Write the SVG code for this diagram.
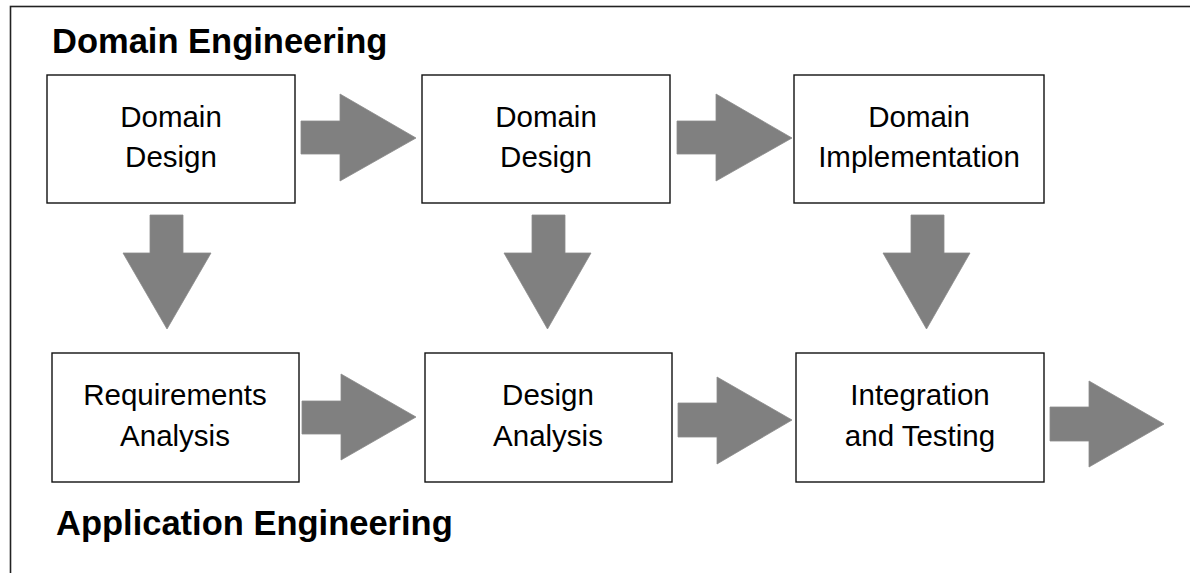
<svg xmlns="http://www.w3.org/2000/svg" width="1190" height="573" viewBox="0 0 1190 573">
<style>
.frame{fill:none;stroke:#222;stroke-width:1.6}
.box{fill:#fff;stroke:#111;stroke-width:1.4}
.lbl{font-family:"Liberation Sans",Arial,sans-serif;font-size:29.5px;fill:#000;text-anchor:middle}
.ttl{font-family:"Liberation Sans",Arial,sans-serif;font-size:34.5px;font-weight:bold;fill:#000}
.arr{fill:#808080;stroke:#8a8a8a;stroke-width:0.8}
</style>
<rect class="frame" x="10.5" y="6.5" width="1200" height="600"/>
<text class="ttl" x="52" y="53">Domain Engineering</text>
<text class="ttl" x="56" y="535">Application Engineering</text>
<g id="node-domain-design-1">
<rect class="box" x="47" y="75" width="248" height="128"/>
<text class="lbl" x="171" y="127">Domain</text>
<text class="lbl" x="171" y="167">Design</text>
</g>
<g id="node-domain-design-2">
<rect class="box" x="422" y="75" width="248" height="128"/>
<text class="lbl" x="546" y="127">Domain</text>
<text class="lbl" x="546" y="167">Design</text>
</g>
<g id="node-domain-implementation">
<rect class="box" x="794" y="75" width="250" height="128"/>
<text class="lbl" x="919" y="127">Domain</text>
<text class="lbl" x="919" y="167">Implementation</text>
</g>
<g id="node-requirements-analysis">
<rect class="box" x="52" y="353" width="247" height="129"/>
<text class="lbl" x="175" y="405">Requirements</text>
<text class="lbl" x="175" y="446">Analysis</text>
</g>
<g id="node-design-analysis">
<rect class="box" x="425" y="353" width="247" height="129"/>
<text class="lbl" x="548" y="405">Design</text>
<text class="lbl" x="548" y="446">Analysis</text>
</g>
<g id="node-integration-testing">
<rect class="box" x="796" y="353" width="248" height="129"/>
<text class="lbl" x="920" y="405">Integration</text>
<text class="lbl" x="920" y="446">and Testing</text>
</g>
<g id="connectors">
<polygon class="arr" points="301,121 340,121 340,94 416,138 340,181 340,154 301,154"/>
<polygon class="arr" points="677,121 716,121 716,94 792,138 716,181 716,154 677,154"/>
<polygon class="arr" points="302,401 341,401 341,374 416,417 341,460 341,434 302,434"/>
<polygon class="arr" points="678,403 717,403 717,377 792,420 717,464 717,437 678,437"/>
<polygon class="arr" points="1050,407 1089,407 1089,381 1164,424 1089,467 1089,441 1050,441"/>
<polygon class="arr" points="150,215 183,215 183,253 211,253 167,329 123,253 150,253"/>
<polygon class="arr" points="532,215 565,215 565,253 591,253 547.5,329 504,253 532,253"/>
<polygon class="arr" points="911,215 944,215 944,253 970,253 926.5,329 883,253 911,253"/>
</g>
</svg>
